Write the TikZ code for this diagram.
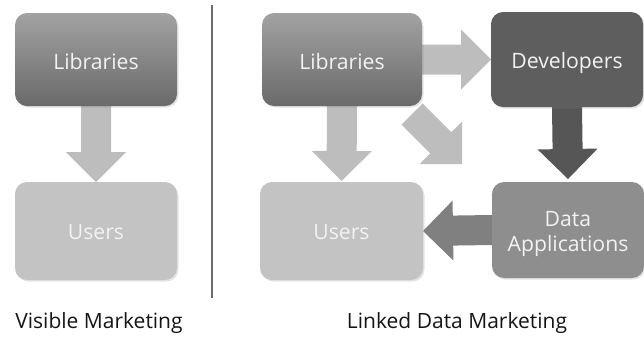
\documentclass[tikz,border=0pt]{standalone}
\usepackage{fontspec}
\setmainfont{Open Sans}
\usetikzlibrary{calc,shadows}
\pgfdeclarelayer{bg}
\pgfsetlayers{bg,main}
\definecolor{libtop}{HTML}{A2A2A2}
\definecolor{libbot}{HTML}{6A6A6A}
\definecolor{userfill}{HTML}{C3C3C3}
\definecolor{devfill}{HTML}{5E5E5E}
\definecolor{appfill}{HTML}{8E8E8E}
\definecolor{lightarr}{HTML}{BDBDBD}
\definecolor{darkarr}{HTML}{565656}
\definecolor{midarr}{HTML}{808080}
\definecolor{boxtext}{HTML}{F2F2F2}
\definecolor{labeltext}{HTML}{151515}
\definecolor{divider}{HTML}{6A6A6A}
\begin{document}
\begin{tikzpicture}[x=1pt,y=-1pt,
  box/.style={rectangle, rounded corners=12pt, inner sep=0pt, outer sep=0pt,
    text=boxtext, font=\fontsize{21.2}{25}\selectfont, align=center,
    drop shadow={opacity=0.22, shadow xshift=1.5pt, shadow yshift=-1.5pt}},
  libbox/.style={box, top color=libtop, bottom color=libbot},
  userbox/.style={box, fill=userfill},
  devbox/.style={box, fill=devfill},
  appbox/.style={box, fill=appfill},
  boxlabel/.style={text=boxtext, font=\fontsize{21.2}{25}\selectfont, align=center, inner sep=0pt},
  caption/.style={text=labeltext, font=\fontsize{21}{25}\selectfont, inner sep=0pt},
  blockarrow/.style={to path={
    ($(\tikztostart)!15pt!90:(\tikztotarget)$) --
    ($(\tikztotarget)!30pt!(\tikztostart)!15pt!90:(\tikztotarget)$) --
    ($(\tikztotarget)!30pt!(\tikztostart)!30pt!90:(\tikztotarget)$) --
    (\tikztotarget) --
    ($(\tikztotarget)!30pt!(\tikztostart)!30pt!-90:(\tikztotarget)$) --
    ($(\tikztotarget)!30pt!(\tikztostart)!15pt!-90:(\tikztotarget)$) --
    ($(\tikztostart)!15pt!-90:(\tikztotarget)$) -- cycle}}
]
\useasboundingbox (0,0) rectangle (644,338);

% left panel
\node[libbox, minimum width=162pt, minimum height=93pt] (llib) at (96,59.5) {};
\node[boxlabel] (llibtext) at ($(llib.center)+(0,2)$) {Libraries};
\node[userbox, minimum width=162pt, minimum height=98pt] (lusers) at (96,231) {};
\node[boxlabel] (luserstext) at ($(lusers.center)+(0,1)$) {Users};

% divider
\coordinate (divtop) at (212,5);
\coordinate (divbot) at (212,298);
\draw[divider, line width=1.2pt] (divtop) -- (divbot);

% right panel
\node[libbox, minimum width=160pt, minimum height=93pt] (rlib) at (342,59.5) {};
\node[boxlabel] (rlibtext) at ($(rlib.center)+(0,2)$) {Libraries};
\node[devbox, minimum width=152pt, minimum height=95pt] (dev) at (567,59.5) {};
\node[boxlabel] (devlabel) at ($(dev.center)+(0,3)$) {Developers};
\node[userbox, minimum width=163pt, minimum height=98pt] (rusers) at (341.5,231) {};
\node[boxlabel] (ruserstext) at ($(rusers.center)+(0,1)$) {Users};
\node[appbox, minimum width=152pt, minimum height=96pt] (app) at (568,230) {};
\node[boxlabel] (applabel) at ($(app.center)+(0,4)$) {Data\\Applications};

\coordinate (diagstart) at ($(rlib.south east)+(-10,8)$);
\coordinate (diagend) at ($(rlib.south east)+(40,58)$);

\begin{pgfonlayer}{bg}
  \fill[lightarr] (llib.south) to[blockarrow] (lusers.north);
  \fill[lightarr] (rlib.south) to[blockarrow] ($(rusers.north)+(0,-1)$);
  \fill[lightarr] (rlib.east) to[blockarrow] (dev.west);
  \fill[lightarr] (diagstart) to[blockarrow] (diagend);
  \fill[darkarr] (dev.south) to[blockarrow] ($(app.north)+(0,-3)$);
  \fill[midarr] (app.west) to[blockarrow] (rusers.east);
\end{pgfonlayer}

% captions
\node[caption] (cap1) at (99,323) {Visible Marketing};
\node[caption] (cap2) at (457,323) {Linked Data Marketing};
\end{tikzpicture}
\end{document}
